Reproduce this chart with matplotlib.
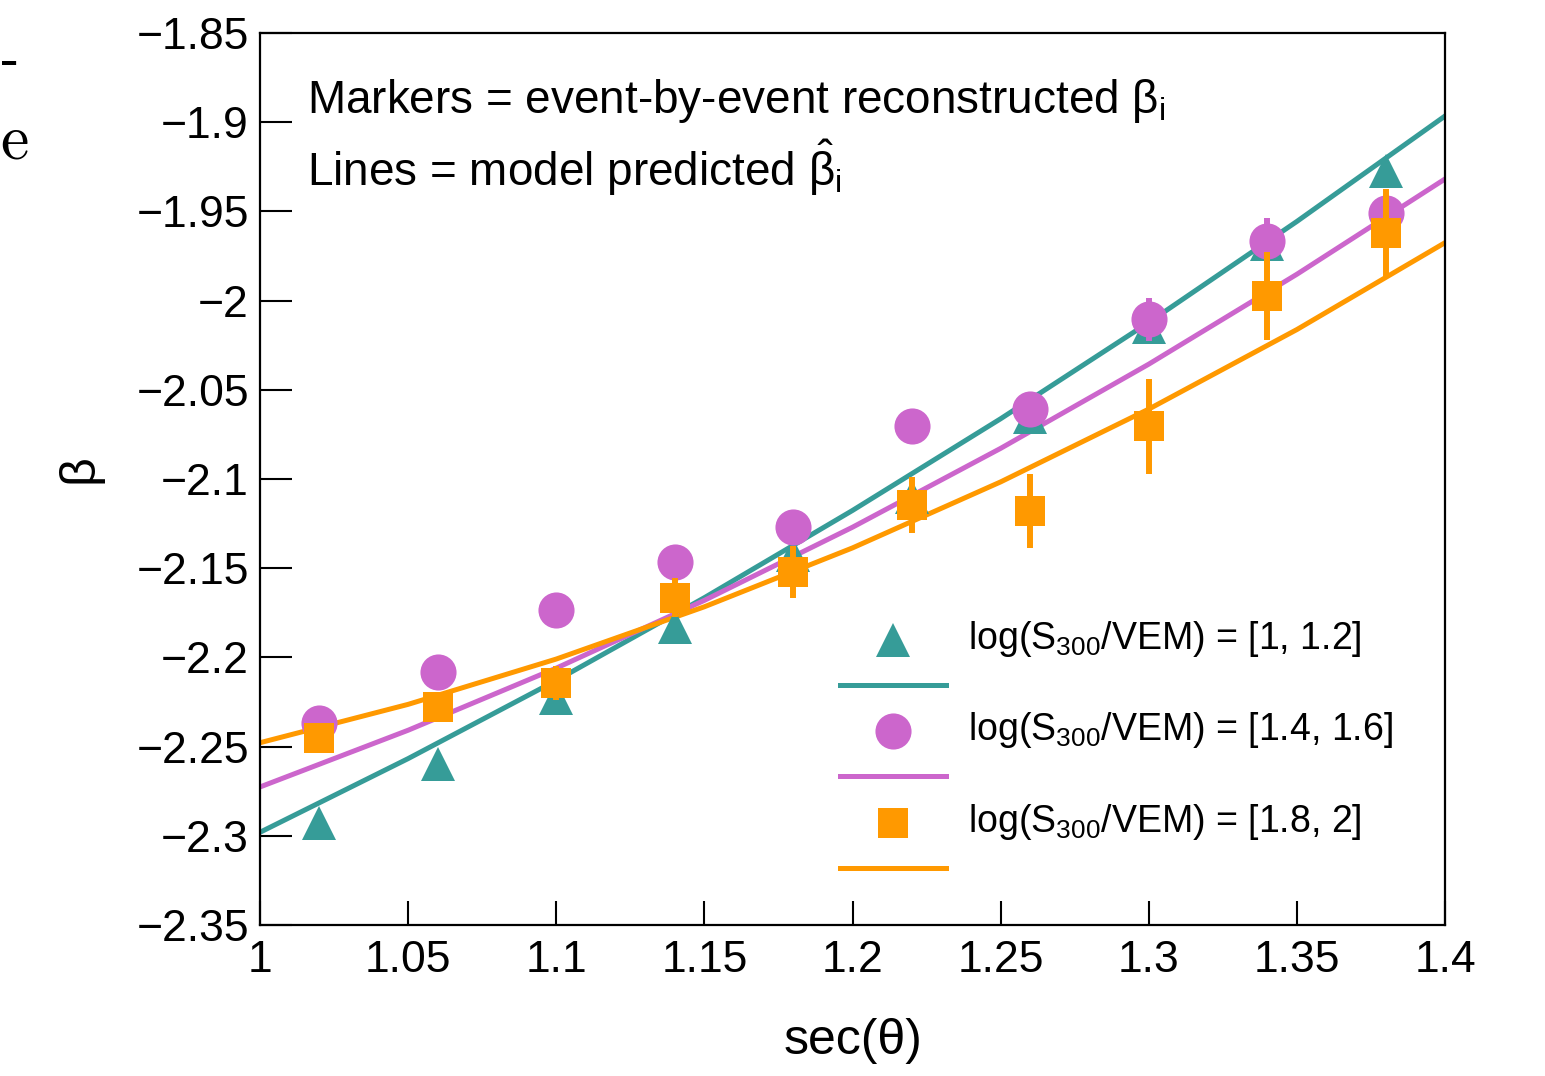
import matplotlib
matplotlib.use("Agg")
import matplotlib.pyplot as plt

plt.rcParams['font.family'] = ['Liberation Sans', 'DejaVu Sans']
plt.rcParams['mathtext.fontset'] = 'custom'
plt.rcParams['mathtext.rm'] = 'Liberation Sans'
plt.rcParams['mathtext.it'] = 'Liberation Sans:italic'
plt.rcParams['mathtext.bf'] = 'Liberation Sans:bold'

# reconstructed beta per sec(theta) bin, for three log(S300/VEM) bins
sec_theta = [1.02, 1.06, 1.10, 1.14, 1.18, 1.22, 1.26, 1.30, 1.34, 1.38]
beta_low = [-2.2928, -2.2596, -2.223, -2.1827, -2.1426, -2.110, -2.0655, -2.015, -1.968, -1.9272]
err_low = [0.004, 0.004, 0.004, 0.004, 0.005, 0.005, 0.005, 0.006, 0.006, 0.006]
beta_mid = [-2.2368, -2.208, -2.1734, -2.1463, -2.1267, -2.0703, -2.0609, -2.0105, -1.9664, -1.9507]
err_mid = [0.004, 0.004, 0.004, 0.005, 0.005, 0.006, 0.008, 0.012, 0.0125, 0.010]
beta_high = [-2.2453, -2.228, -2.2142, -2.1665, -2.152, -2.1146, -2.1178, -2.0703, -1.9974, -1.9623]
err_high = [0.006, 0.007, 0.0095, 0.011, 0.0147, 0.0159, 0.0206, 0.0266, 0.0247, 0.0248]

# model predicted beta
model_x = [1.0, 1.05, 1.1, 1.15, 1.2, 1.25, 1.3, 1.35, 1.4]
model_low = [-2.298, -2.2567, -2.2129, -2.1665, -2.1176, -2.0662, -2.0122, -1.9556, -1.8965]
model_mid = [-2.2726, -2.2408, -2.2060, -2.1680, -2.1270, -2.0828, -2.0356, -1.9852, -1.9318]
model_high = [-2.2478, -2.2263, -2.2009, -2.1716, -2.1386, -2.1016, -2.0608, -2.0162, -1.9675]

labels = [r'log(S$_{300}$/VEM) = [1, 1.2]',
          r'log(S$_{300}$/VEM) = [1.4, 1.6]',
          r'log(S$_{300}$/VEM) = [1.8, 2]']

x_ticks = [1.0, 1.05, 1.1, 1.15, 1.2, 1.25, 1.3, 1.35, 1.4]
x_ticklabels = ['1', '1.05', '1.1', '1.15', '1.2', '1.25', '1.3', '1.35', '1.4']
y_ticks = [-2.35, -2.3, -2.25, -2.2, -2.15, -2.1, -2.05, -2.0, -1.95, -1.9, -1.85]
y_ticklabels = ['\u22122.35', '\u22122.3', '\u22122.25', '\u22122.2', '\u22122.15', '\u22122.1',
                '\u22122.05', '\u22122', '\u22121.95', '\u22121.9', '\u22121.85']

teal = '#369c98'
violet = '#cc66cc'
orange = '#ff9900'

fig = plt.figure(figsize=(15.45, 10.76), dpi=100)
ax = fig.add_axes([0.1683, 0.1403, 0.767, 0.829])

# model lines
ax.plot(model_x, model_low, color=teal, lw=3.6, zorder=2)
ax.plot(model_x, model_mid, color=violet, lw=3.6, zorder=2)
ax.plot(model_x, model_high, color=orange, lw=3.6, zorder=2)

# markers with error bars
ax.errorbar(sec_theta, beta_low, yerr=err_low, fmt='^', ms=25, mew=0, color=teal,
            elinewidth=4.3, capsize=0, zorder=3)
ax.errorbar(sec_theta, beta_mid, yerr=err_mid, fmt='o', ms=26, mew=0, color=violet,
            elinewidth=4.3, capsize=0, zorder=4)
ax.errorbar(sec_theta, beta_high, yerr=err_high, fmt='s', ms=21, mew=0, color=orange,
            elinewidth=4.3, capsize=0, zorder=5)

ax.set_xlim(1.0, 1.4)
ax.set_ylim(-2.35, -1.85)
ax.set_xticks(x_ticks)
ax.set_xticklabels(x_ticklabels)
ax.set_yticks(y_ticks)
ax.set_yticklabels(y_ticklabels)
ax.tick_params(axis='both', direction='in', labelsize=32, width=1.5, top=False, right=False)
ax.tick_params(axis='x', length=17, pad=11)
ax.tick_params(axis='y', length=23, pad=8)
for s in ax.spines.values():
    s.set_linewidth(1.6)

ax.set_xlabel('sec(\u03b8)', fontsize=36)
ax.xaxis.set_label_coords(0.5, -0.104)
ax.set_ylabel('\u03b2', fontsize=36)
ax.yaxis.set_label_coords(-0.152, 0.512)
ax.yaxis.label.set_verticalalignment('center')

# annotation
ax.text(0.0397, 0.9238, 'Markers = event-by-event reconstructed \u03b2$_\\mathregular{i}$',
        transform=ax.transAxes, fontsize=33, va='center', ha='left')
ax.text(0.0397, 0.8487, r'Lines = model predicted $\hat{\mathregular{\beta}}_\mathregular{i}$',
        transform=ax.transAxes, fontsize=33, va='center', ha='left')

# legend, drawn by hand: marker row then line row per entry
leg_rows = [(0.3195, 0.2691, '^', 25, teal),
            (0.2175, 0.1670, 'o', 26, violet),
            (0.1143, 0.0639, 's', 21, orange)]
for (ym, yl, mk, ms, c), lab in zip(leg_rows, labels):
    ax.plot([0.5342], [ym], marker=mk, ms=ms, mew=0, color=c, ls='none',
            transform=ax.transAxes, clip_on=False, zorder=6)
    ax.plot([0.4895, 0.5789], [yl, yl], color=c, lw=3.6,
            transform=ax.transAxes, clip_on=False, zorder=6)
    ax.text(0.5975, ym + 0.001, lab, transform=ax.transAxes, fontsize=27,
            va='center', ha='left')

# text from a neighbouring panel peeking in at the left edge
fig.text(0.0, 1 - 62 / 1076, '\u2013', fontsize=26, ha='left', va='center',
         family='DejaVu Serif', fontweight='bold')
fig.text(0.0, 1 - 141 / 1076, r'$\mathrm{e}$', fontsize=46, ha='left', va='center',
         math_fontfamily='cm')

fig.savefig('out.png', dpi=100)
